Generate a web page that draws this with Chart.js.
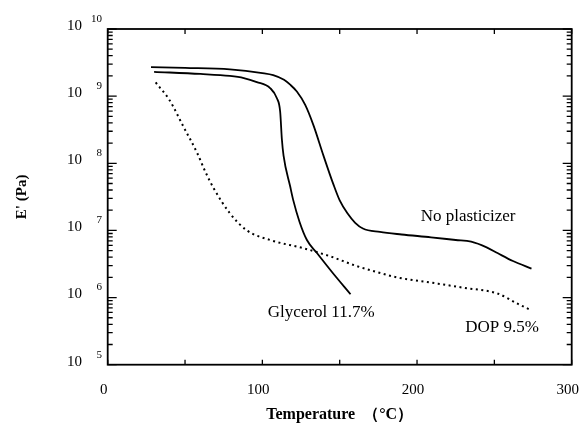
<!DOCTYPE html>
<html>
<head>
<meta charset="utf-8">
<title>E' vs Temperature</title>
<script src="https://cdn.jsdelivr.net/npm/chart.js@4.4.1/dist/chart.umd.min.js"></script>
<style>
html,body{margin:0;padding:0;background:#fff;}
#chart{display:block;}
</style>
</head>
<body>
<canvas id="chart" width="579" height="432"></canvas>
<script>
// temperature (degC) / storage modulus E' (Pa)
var noPlastTemp = [28, 50, 79, 100, 107, 114, 118, 122.3, 127.7, 133, 139.5, 146, 150, 155, 160, 165, 176, 190, 209, 225, 235, 245, 252, 262, 274];
var noPlastMod = [2.7e9, 2.63e9, 2.5e9, 2.2e9, 2.05e9, 1.75e9, 1.48e9, 1.17e9, 7.4e8, 3.7e8, 1.3e8, 4.8e7, 2.8e7, 1.8e7, 1.3e7, 1.07e7, 9.5e6, 8.7e6, 7.9e6, 7.2e6, 6.8e6, 5.6e6, 4.6e6, 3.5e6, 2.7e6];

var glyTemp = [30, 60, 79, 88, 96.4, 105, 109.4, 111.5, 112.6, 113.7, 118, 120, 124, 128.8, 135.3, 145, 157];
var glyMod = [2.3e9, 2.14e9, 2.0e9, 1.86e9, 1.62e9, 1.32e9, 9.3e8, 5.9e8, 2.3e8, 1.3e8, 4.5e7, 2.8e7, 1.35e7, 7.2e6, 4.6e6, 2.4e6, 1.12e6];

var dopTemp = [31, 40, 49, 58, 63, 68.4, 79, 90, 105, 127, 144, 160, 174, 187, 210, 230, 252, 265, 273];
var dopMod = [1.6e9, 8.7e8, 3.5e8, 1.4e8, 7.6e7, 4.3e7, 1.8e7, 1.0e7, 7.2e6, 5.4e6, 4.1e6, 3.0e6, 2.4e6, 2.0e6, 1.66e6, 1.4e6, 1.15e6, 8.1e5, 6.6e5];

var yExponents = [5, 6, 7, 8, 9, 10];
var curveLabels = ["No plasticizer", "Glycerol 11.7%", "DOP 9.5%"];
var labelTemp = [233, 138, 255];
var labelMod = [1.6e7, 5.9e5, 3.6e5];

var serif = "'Liberation Serif', 'Times New Roman', serif";

function toPoints(t, e) {
	return t.map(function(v, i) { return {x: v, y: e[i]}; });
}

var framePlugin = {
	id: 'frame',
	afterDraw: function(chart) {
		var ctx = chart.ctx, a = chart.chartArea;
		var xs = chart.scales.x, ys = chart.scales.y;
		ctx.save();
		ctx.strokeStyle = '#000';
		ctx.lineWidth = 1.8;
		ctx.strokeRect(a.left, a.top, a.right - a.left, a.bottom - a.top);

		// inward ticks
		ctx.lineWidth = 1.3;
		ctx.beginPath();
		for (var t = 0; t <= 300; t += 50) {
			var px = xs.getPixelForValue(t);
			ctx.moveTo(px, a.bottom); ctx.lineTo(px, a.bottom - 5);
			ctx.moveTo(px, a.top); ctx.lineTo(px, a.top + 5);
		}
		for (var ex = 5; ex <= 10; ex++) {
			for (var m = 1; m <= 9; m++) {
				if (ex === 10 && m > 1) break;
				var py = ys.getPixelForValue(m * Math.pow(10, ex));
				var len = m === 1 ? 9 : 5;
				ctx.moveTo(a.left, py); ctx.lineTo(a.left + len, py);
				ctx.moveTo(a.right, py); ctx.lineTo(a.right - len, py);
			}
		}
		ctx.stroke();

		// y tick labels 10^n
		ctx.fillStyle = '#000';
		ctx.textAlign = 'right';
		ctx.textBaseline = 'middle';
		yExponents.forEach(function(n) {
			var py = ys.getPixelForValue(Math.pow(10, n));
			ctx.font = '15px ' + serif;
			ctx.fillText('10', 82, py - 3);
			ctx.font = '11px ' + serif;
			ctx.fillText(String(n), 102, py - 10);
		});

		// curve labels
		ctx.font = '17px ' + serif;
		ctx.textAlign = 'center';
		curveLabels.forEach(function(s, i) {
			ctx.fillText(s, xs.getPixelForValue(labelTemp[i]), ys.getPixelForValue(labelMod[i]));
		});
		ctx.restore();
	}
};

var ds = function(label, pts, dash) {
	return {
		label: label,
		data: pts,
		borderColor: '#000',
		borderWidth: dash ? 2 : 1.8,
		borderDash: dash || [],
		borderCapStyle: 'butt',
		pointRadius: 0,
		fill: false,
		cubicInterpolationMode: 'monotone'
	};
};

new Chart(document.getElementById('chart'), {
	type: 'line',
	data: {
		datasets: [
			ds('No plasticizer', toPoints(noPlastTemp, noPlastMod)),
			ds('Glycerol 11.7%', toPoints(glyTemp, glyMod)),
			ds('DOP 9.5%', toPoints(dopTemp, dopMod), [2, 3.5])
		]
	},
	options: {
		responsive: false,
		animation: false,
		devicePixelRatio: 1,
		layout: {padding: {left: 0, top: 29, right: 7.3, bottom: 0}},
		plugins: {legend: {display: false}, tooltip: {enabled: false}},
		scales: {
			x: {
				type: 'linear', min: 0, max: 300,
				grid: {display: false},
				border: {display: false},
				ticks: {stepSize: 100, padding: 8, labelOffset: -4, color: '#000', font: {family: serif, size: 15}, maxRotation: 0},
				title: {display: true, text: 'Temperature  （°C）', color: '#000', font: {family: serif, size: 16, weight: 'bold'}, padding: {top: 0, bottom: 8}},
				afterFit: function(s) { s.height = 67.3; s.paddingLeft = 0; s.paddingRight = 0; }
			},
			y: {
				type: 'logarithmic', min: 1e5, max: 1e10,
				grid: {display: false},
				border: {display: false},
				ticks: {display: false},
				title: {display: true, text: "E' (Pa)", color: '#000', font: {family: serif, size: 15, weight: 'bold'}, padding: {top: 13, bottom: 0}},
				afterFit: function(s) { s.width = 107.7; s.paddingTop = 0; s.paddingBottom = 0; }
			}
		}
	},
	plugins: [framePlugin]
});
</script>
</body>
</html>
